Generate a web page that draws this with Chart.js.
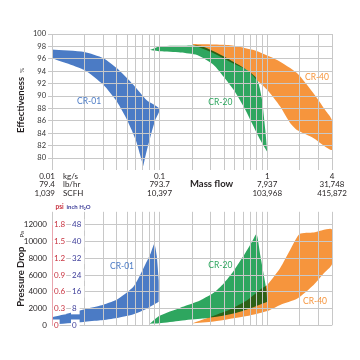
<!DOCTYPE html>
<html><head><meta charset="utf-8">
<script src="https://cdn.jsdelivr.net/npm/chart.js@4"></script>
<style>
html,body{margin:0;padding:0;background:#fff;}
#wrap{position:relative;width:360px;height:360px;overflow:hidden;background:#fff;}
#top{position:absolute;left:0;top:0;}
#bot{position:absolute;left:0;top:200px;}
</style></head><body>
<div id="wrap"><canvas id="top" width="360" height="200"></canvas><canvas id="bot" width="360" height="160"></canvas></div>
<script>
// ---------------- data ----------------
const products = ['CR-01', 'CR-20', 'CR-40'];

const massFlowKgs = [0.01, 0.1, 1, 4];
const massFlowKgsLabels = ['0.01', '0.1', '1', '4'];
const massFlowLbhrLabels = ['79.4', '793.7', '7,937', '31,748'];
const massFlowScfhLabels = ['1,039', '10,397', '103,968', '415,872'];
const massFlowUnits = ['kg/s', 'lb/hr', 'SCFH'];

const effTicks = [80, 82, 84, 86, 88, 90, 92, 94, 96, 98, 100];
const paTicks = [0, 2000, 4000, 6000, 8000, 10000, 12000];
const psiTicks = [0, 0.3, 0.6, 0.9, 1.2, 1.5, 1.8];
const inH2OTicks = [0, 8, 16, 24, 32, 40, 48];

// Effectiveness (%) bands: [mass flow kg/s, effectiveness]
const cr01EffUpper = [[0.01,97.5],[0.02,97.1],[0.03,96.1],[0.04,94.5],[0.057,91.8],[0.076,89.3],[0.1,87.9],[0.091,86.1],[0.082,83.4],[0.075,80.8],[0.0705,78.7]];
const cr01EffLower = [[0.01,96.1],[0.02,94.2],[0.03,91.8],[0.04,89.1],[0.05,86.1],[0.06,82.9],[0.0705,78.7]];
const cr20EffUpper = [[0.081,97.4],[0.1,98.0],[0.156,98.1],[0.24,98.1],[0.318,97.2],[0.454,95.8],[0.649,94.2],[0.775,93.1],[0.832,92.0],[0.895,89.4],[0.96,84.5],[1.0,81.0]];
const cr20EffLower = [[0.081,97.4],[0.1,97.2],[0.156,97.0],[0.223,96.6],[0.318,95.0],[0.394,93.1],[0.487,91.0],[0.604,88.3],[0.722,85.6],[0.863,82.9],[1.0,81.0]];
const cr40EffUpper = [[0.2,98.4],[0.454,98.2],[0.748,97.4],[1.234,95.8],[1.89,93.7],[2.7,90.4],[3.47,87.7],[4,86.1]];
const cr40EffLower = [[0.2,98.3],[0.318,96.9],[0.454,95.5],[0.649,94.2],[0.8,92.6],[1.0,91.0],[1.32,88.3],[1.64,85.6],[1.89,84.5],[2.7,83.2],[4,81.3]];

// Pressure drop (Pa) bands: [mass flow kg/s, Pa]
const cr01DropUpper = [[0.01,950],[0.0197,1880],[0.0281,2350],[0.0402,3090],[0.0573,4640],[0.071,6850],[0.082,8510],[0.0893,9720],[0.094,8320],[0.098,5370],[0.098,2800]];
const cr01DropLower = [[0.01,100],[0.0197,400],[0.0281,590],[0.0402,880],[0.0573,1330],[0.076,1990],[0.098,2800]];
const cr20DropUpper = [[0.081,200],[0.1,1140],[0.156,2100],[0.222,2800],[0.318,3900],[0.394,5000],[0.487,6480],[0.604,8320],[0.722,9980],[0.796,10900],[0.863,8320],[0.926,6110],[0.983,4270],[1.0,2800]];
const cr20DropLower = [[0.081,200],[0.1,250],[0.156,550],[0.25,800],[0.35,1050],[0.5,1450],[0.65,1900],[0.8,2300],[1.0,2800]];
const cr40DropUpper = [[0.2,220],[0.318,1140],[0.45,1880],[0.649,2980],[0.9,4450],[1.0,4820],[1.32,6850],[1.64,9060],[2.0,10900],[2.7,11080],[4,11450]];
const cr40DropLower = [[0.2,220],[0.318,450],[0.649,1100],[1.0,1700],[1.32,2430],[1.89,3160],[2.7,4820],[3.3,6110],[4,7290]];

// ---------------- styles ----------------
const FONT = 'Lato, "Open Sans", sans-serif';
const GRID = '#c8c8c8';
const COLORS = ['#4b7bc5', '#2ea65f', '#f6953d'];
const TEXT = '#231f20';
const PSI_COLOR = '#c8323f';
const INCH_COLOR = '#3d3d99';

function logGrid(min, max) {
  const out = [];
  for (let e = Math.floor(Math.log10(min)); e <= Math.ceil(Math.log10(max)); e++) {
    for (let m = 1; m <= 9; m++) {
      const v = m * Math.pow(10, e);
      if (v >= min * 0.999 && v <= max * 1.001) out.push(v);
    }
  }
  return out;
}
const polygon = (upper, lower) => upper.concat(lower.slice().reverse()).map(([x, y]) => ({x, y}));
const bandDataset = (label, upper, lower, i) => ({
  label, data: polygon(upper, lower), backgroundColor: COLORS[i], borderWidth: 0,
  pointRadius: 0, fill: 'shape', tension: 0.2, yAxisID: 'y', xAxisID: 'x'
});
const findDecade = v => massFlowKgs.findIndex(m => Math.abs(m - v) / m < 1e-6);

const multiplyPlugin = {
  id: 'multiply',
  beforeDatasetsDraw(chart) { chart.ctx.save(); chart.ctx.globalCompositeOperation = 'multiply'; },
  afterDatasetsDraw(chart) { chart.ctx.restore(); }
};

function drawRotatedTitle(ctx, x, y, main, unit, gap) {
  ctx.save();
  ctx.translate(x, y);
  ctx.rotate(-Math.PI / 2);
  ctx.fillStyle = TEXT;
  ctx.textAlign = 'left';
  ctx.textBaseline = 'alphabetic';
  ctx.font = 'bold 9.5px ' + FONT;
  ctx.fillText(main, 0, 0);
  const w = ctx.measureText(main).width;
  ctx.font = '6px ' + FONT;
  ctx.fillText(unit, w + gap, 0);
  ctx.restore();
}

const baseX = (extra) => Object.assign({
  type: 'logarithmic', min: 0.01, max: 4,
  afterBuildTicks: s => { s.ticks = logGrid(0.01, 4).map(v => ({value: v})); },
  border: {display: false}
}, extra);

// ---------------- top chart: effectiveness ----------------
const effLabelPos = [[0.0221, 89.1], [0.367, 89.0], [2.9, 93.1]];
const topText = {
  id: 'topText',
  afterDraw(chart) {
    const {ctx, scales: {x, y}, chartArea} = chart;
    ctx.save();
    ctx.font = '8.5px ' + FONT;
    ctx.textAlign = 'center';
    ctx.textBaseline = 'middle';
    products.forEach((p, i) => {
      ctx.fillStyle = COLORS[i];
      ctx.fillText(p, x.getPixelForValue(effLabelPos[i][0]), y.getPixelForValue(effLabelPos[i][1]));
    });
    const lh = 8.5;
    const x0 = x.getPixelForValue(massFlowKgs[0]);
    const rows = [massFlowKgsLabels[0], massFlowLbhrLabels[0], massFlowScfhLabels[0]];
    ctx.font = '8px ' + FONT;
    ctx.fillStyle = TEXT;
    rows.forEach((t, r) => {
      const yy = chartArea.bottom + 5 + lh * (r + 0.5);
      ctx.textAlign = 'right';
      ctx.fillText(t, x0 + 3, yy);
      ctx.textAlign = 'left';
      ctx.fillText(massFlowUnits[r], x0 + 11, yy);
    });
    ctx.font = 'bold 9.5px ' + FONT;
    ctx.textAlign = 'left';
    ctx.fillText('Mass flow', 190, chartArea.bottom + 5 + lh * 1.45);
    ctx.restore();
    drawRotatedTitle(ctx, 24, 133, 'Effectiveness', '%', 4);
  }
};

new Chart(document.getElementById('top'), {
  type: 'line',
  data: {datasets: [
    bandDataset(products[0], cr01EffUpper, cr01EffLower, 0),
    bandDataset(products[1], cr20EffUpper, cr20EffLower, 1),
    bandDataset(products[2], cr40EffUpper, cr40EffLower, 2)
  ]},
  options: {
    responsive: false, animation: false, devicePixelRatio: 1,
    layout: {padding: {top: 34, right: 28, bottom: 0, left: 0}},
    plugins: {legend: {display: false}, tooltip: {enabled: false}},
    scales: {
      x: baseX({
        position: 'bottom',
        afterFit: s => { s.height = 33; },
        grid: {color: GRID, lineWidth: 1, z: 1, drawTicks: true, tickLength: 3},
        ticks: {autoSkip: false, maxRotation: 0, minRotation: 0, padding: 2, color: TEXT,
          font: {family: FONT, size: 8, lineHeight: 1.06},
          callback: v => { const i = findDecade(v); if (i <= 0) return ''; return [massFlowKgsLabels[i], massFlowLbhrLabels[i], massFlowScfhLabels[i]]; }}
      }),
      y: {
        min: 78.55, max: 100,
        afterBuildTicks: s => { s.ticks = effTicks.map(v => ({value: v})); },
        afterFit: s => { s.width = 52; },
        grid: {color: GRID, lineWidth: 1, z: 1, drawTicks: true, tickLength: 4},
        border: {display: true, color: GRID, z: 1},
        ticks: {padding: 2, color: '#333', font: {family: FONT, size: 7.5}, callback: v => String(v)}
      }
    }
  },
  plugins: [multiplyPlugin, topText]
});

// ---------------- bottom chart: pressure drop ----------------
const dropLabelPos = [[0.0447, 7030], [0.367, 7140], [2.78, 2870]];
const botText = {
  id: 'botText',
  afterDraw(chart) {
    const {ctx, scales: {x, y}} = chart;
    ctx.save();
    ctx.font = '8.5px ' + FONT;
    ctx.textAlign = 'center';
    ctx.textBaseline = 'middle';
    products.forEach((p, i) => {
      ctx.fillStyle = COLORS[i];
      ctx.fillText(p, x.getPixelForValue(dropLabelPos[i][0]), y.getPixelForValue(dropLabelPos[i][1]));
    });
    ctx.textAlign = 'left';
    ctx.textBaseline = 'alphabetic';
    ctx.font = 'bold 6.5px ' + FONT;
    ctx.fillStyle = PSI_COLOR;
    ctx.fillText('psi', 55.5, 9);
    ctx.font = 'bold 6px ' + FONT;
    ctx.fillStyle = INCH_COLOR;
    ctx.fillText('inch H\u2082O', 66.5, 9);
    ctx.restore();
    drawRotatedTitle(ctx, 24, 106.7, 'Pressure Drop', 'Pa', 9);
  }
};

new Chart(document.getElementById('bot'), {
  type: 'line',
  data: {datasets: [
    bandDataset(products[0], cr01DropUpper, cr01DropLower, 0),
    bandDataset(products[1], cr20DropUpper, cr20DropLower, 1),
    bandDataset(products[2], cr40DropUpper, cr40DropLower, 2)
  ]},
  options: {
    responsive: false, animation: false, devicePixelRatio: 1,
    layout: {padding: {top: 0, right: 28, bottom: 34.7, left: 0}},
    plugins: {legend: {display: false}, tooltip: {enabled: false}},
    scales: {
      x: baseX({
        position: 'top',
        afterFit: s => { s.height = 16.7; },
        grid: {color: GRID, lineWidth: 1, z: 1, drawTicks: true, tickLength: 13},
        ticks: {display: false}
      }),
      yPsi: {
        position: 'left', min: 0, max: 1.8,
        afterBuildTicks: s => { s.ticks = psiTicks.map(v => ({value: v})); },
        afterFit: s => { s.width = 0; },
        grid: {display: false, drawTicks: false},
        border: {display: true, color: '#e9a5ae', z: 1},
        ticks: {mirror: true, padding: 2, color: PSI_COLOR, z: 2, font: {family: FONT, size: 8},
          showLabelBackdrop: true, backdropColor: '#ffffff', backdropPadding: {top: 1, bottom: 1, left: 1, right: 1},
          callback: v => String(v)}
      },
      yIn: {
        position: 'left', min: 0, max: 48,
        afterBuildTicks: s => { s.ticks = inH2OTicks.map(v => ({value: v})); },
        afterFit: s => { s.width = 0; },
        grid: {display: false, drawTicks: false},
        border: {display: false},
        ticks: {mirror: true, padding: 20, color: INCH_COLOR, z: 2, font: {family: FONT, size: 8},
          showLabelBackdrop: true, backdropColor: '#ffffff', backdropPadding: {top: 1, bottom: 1, left: 1, right: 3},
          callback: v => String(v)}
      },
      y: {
        position: 'left', min: 0, max: 12000,
        afterBuildTicks: s => { s.ticks = paTicks.map(v => ({value: v})); },
        afterFit: s => { s.width = 52; },
        grid: {color: GRID, lineWidth: 1, z: 1, drawTicks: false},
        border: {display: false},
        ticks: {padding: 5, color: TEXT, font: {family: FONT, size: 8}, callback: v => String(v)}
      }
    }
  },
  plugins: [multiplyPlugin, botText]
});
</script>
</body></html>
